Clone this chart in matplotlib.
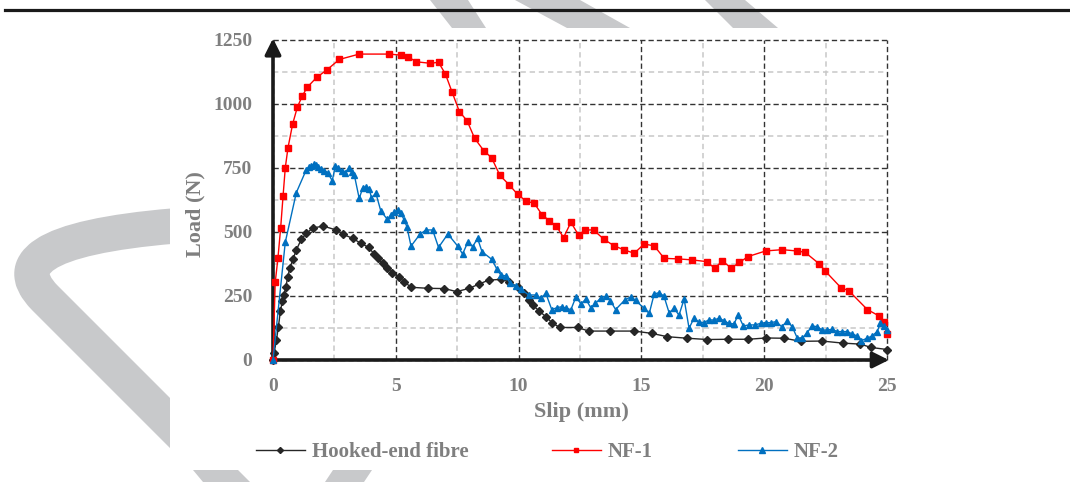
import numpy as np
import matplotlib
matplotlib.use("Agg")
import matplotlib.pyplot as plt
from matplotlib.lines import Line2D
from matplotlib.patches import Polygon, Rectangle, PathPatch
from matplotlib.path import Path

# pull-out curves: slip (mm) vs load (N)
hooked_x = [0, 0.04, 0.14, 0.22, 0.3, 0.38, 0.45, 0.52, 0.6, 0.68, 0.81, 0.95, 1.15,
            1.36, 1.63, 2.05, 2.57, 2.84, 3.24, 3.58, 3.89, 4.12, 4.26, 4.46, 4.66,
            4.86, 5.14, 5.34, 5.62, 6.33, 6.98, 7.48, 7.99, 8.4, 8.78, 9.28, 9.62,
            9.96, 10.23, 10.41, 10.57, 10.82, 11.11, 11.38, 11.68, 12.4, 12.86, 13.73,
            14.71, 15.42, 16.06, 16.87, 17.68, 18.52, 19.36, 20.06, 20.82, 21.48,
            22.36, 23.2, 23.92, 24.35, 25.0]
hooked_y = [0, 26, 78, 130, 190, 230, 254, 286, 323, 358, 393, 430, 471,
            495, 516, 523, 508, 492, 475, 456, 440, 414, 397, 378, 358,
            341, 323, 306, 284, 280, 279, 267, 280, 297, 312, 315, 306,
            284, 260, 234, 215, 193, 169, 144, 127, 127, 113, 113,
            113, 104, 91, 85, 80, 81, 81, 86, 85, 73,
            74, 66, 62, 49, 41]

nf1_x = [0, 0.09, 0.2, 0.31, 0.41, 0.5, 0.61, 0.8, 0.99, 1.19, 1.39, 1.78, 2.19, 2.7,
         3.51, 4.73, 5.2, 5.5, 5.82, 6.41, 6.74, 7.02, 7.29, 7.59, 7.9, 8.21, 8.58,
         8.9, 9.24, 9.62, 9.96, 10.3, 10.64, 10.95, 11.25, 11.54, 11.83, 12.13,
         12.44, 12.71, 13.05, 13.48, 13.89, 14.3, 14.71, 15.11, 15.52, 15.93, 16.49,
         17.07, 17.68, 17.98, 18.29, 18.66, 18.99, 19.34, 20.06, 20.73, 21.32,
         21.66, 22.25, 22.47, 23.13, 23.44, 24.2, 24.66, 24.86, 25.0]
nf1_y = [0, 303, 397, 514, 641, 751, 829, 922, 987, 1031, 1065, 1104, 1133, 1174,
         1195, 1195, 1191, 1185, 1165, 1159, 1163, 1117, 1047, 970, 935, 866, 818,
         790, 721, 684, 647, 621, 612, 568, 544, 523, 478, 538,
         488, 508, 508, 471, 446, 430, 417, 453, 446, 397, 395,
         391, 384, 358, 387, 359, 381, 404, 426, 431, 426,
         421, 375, 349, 282, 271, 197, 173, 147, 100]

nf2_x = [0, 0.5, 0.95, 1.35, 1.45, 1.55, 1.66, 1.76, 1.85, 1.96, 2.09, 2.23, 2.41,
         2.54, 2.66, 2.8, 2.93, 3.11, 3.2, 3.31, 3.51, 3.65, 3.78, 3.92, 4.01, 4.19,
         4.39, 4.66, 4.8, 4.93, 5.07, 5.2, 5.34, 5.45, 5.62, 5.99, 6.23, 6.5, 6.74,
         7.12, 7.52, 7.72, 7.93, 8.13, 8.33, 8.51, 8.91, 9.12, 9.28, 9.49, 9.65,
         9.9, 10.1, 10.41, 10.71, 10.91, 11.11, 11.35, 11.58, 11.76, 11.93, 12.13,
         12.33, 12.54, 12.74, 12.94, 13.13, 13.35, 13.55, 13.74, 13.95, 14.32,
         14.57, 14.76, 15.11, 15.32, 15.52, 15.72, 15.92, 16.13, 16.33, 16.53,
         16.74, 16.94, 17.14, 17.34, 17.54, 17.75, 17.95, 18.15, 18.36, 18.56,
         18.77, 18.94, 19.15, 19.38, 19.62, 19.85, 20.06, 20.26, 20.49, 20.71,
         20.94, 21.14, 21.34, 21.55, 21.75, 21.95, 22.16, 22.36, 22.56, 22.77,
         22.97, 23.17, 23.38, 23.58, 23.78, 23.96, 24.19, 24.39, 24.6, 24.73,
         24.87, 25.0]
nf2_y = [0, 460, 654, 742, 753, 758, 764, 762, 755, 745, 740, 732, 700,
         758, 749, 740, 732, 751, 736, 723, 631, 671, 677, 667, 634, 651,
         582, 549, 566, 579, 586, 575, 547, 521, 445, 492, 508, 508, 440,
         492, 445, 414, 460, 443, 475, 423, 393, 354, 332, 328, 300,
         289, 276, 254, 254, 241, 260, 197, 205, 208, 202, 197,
         245, 220, 237, 204, 221, 243, 249, 231, 197, 234,
         247, 233, 202, 182, 258, 263, 249, 184, 202, 175,
         238, 124, 163, 148, 146, 157, 156, 163, 154, 143,
         141, 176, 133, 137, 137, 143, 146, 146, 150, 130,
         152, 130, 87, 85, 107, 133, 130, 117, 117, 120,
         111, 111, 111, 102, 94, 76, 85, 94, 111, 143,
         133, 117]

x_ticks = [0, 5, 10, 15, 20, 25]
y_ticks = [0, 250, 500, 750, 1000, 1250]

series_names = ["Hooked-end fibre", "NF-1", "NF-2"]

TEXT = "#7f7f7f"
WM = "#c8c9cb"
W, H = 1070, 482

plt.rcParams["font.family"] = ["Liberation Serif", "DejaVu Serif"]
plt.rcParams["font.weight"] = "bold"

fig = plt.figure(figsize=(W / 100, H / 100), dpi=100)


def fpt(x, y):
    # pixel position (from top-left) -> figure fraction
    return (x / W, 1 - y / H)


# grey stamp shapes behind the chart
hook = Path([fpt(200, 224), fpt(-15, 238), fpt(45, 298), fpt(200, 453)],
            [Path.MOVETO, Path.CURVE3, Path.CURVE3, Path.LINETO])
fig.add_artist(PathPatch(hook, fill=False, lw=25.5, edgecolor=WM,
                         capstyle="butt", joinstyle="round",
                         transform=fig.transFigure, zorder=-3))
for quad in ([(430, 0), (468, 0), (486, 28), (452, 28)],
             [(515, 0), (580, 0), (630, 28), (567, 28)],
             [(705, 0), (745, 0), (778, 28), (733, 28)],
             [(193, 470), (238, 470), (250, 482), (203, 482)],
             [(333, 470), (372, 470), (364, 482), (325, 482)]):
    fig.add_artist(Polygon([fpt(*q) for q in quad], closed=True, color=WM, lw=0,
                           transform=fig.transFigure, zorder=-3))
# white panel of the chart itself
x0, y0 = fpt(170, 470)
x1, y1 = fpt(1070, 28)
fig.add_artist(Rectangle((x0, y0), x1 - x0, y1 - y0, color="white", lw=0,
                         transform=fig.transFigure, zorder=-2))
# rule across the top of the page
fig.add_artist(Line2D([5 / W, 1], [1 - 10 / H] * 2, lw=2.3, color="#1a1a1a",
                      transform=fig.transFigure, zorder=-1))

ax = fig.add_axes([273 / W, 122 / H, 614 / W, 320 / H])
ax.set_xlim(0, 25)
ax.set_ylim(0, 1250)

ax.set_xticks(x_ticks)
ax.set_yticks(y_ticks)
ax.set_xticks([2.5, 7.5, 12.5, 17.5, 22.5], minor=True)
ax.set_yticks([125, 375, 625, 875, 1125], minor=True)
ax.tick_params(which="both", length=0)
ax.tick_params(axis="x", pad=13, labelsize=14, labelcolor=TEXT)
ax.tick_params(axis="y", pad=15, labelsize=14, labelcolor=TEXT)

ax.grid(which="major", color="#333333", lw=1.0, ls=(0, (3.8, 2.2)))
ax.grid(which="minor", color="#c8c8c8", lw=1.1, ls=(0, (3.5, 2.5)))
for gl in ax.get_xgridlines() + ax.get_ygridlines():
    gl.set_clip_on(False)
for s in ax.spines.values():
    s.set_visible(False)

# axes drawn as arrows
arrow = dict(arrowstyle="-|>", lw=2.6, color="#1a1a1a", mutation_scale=24,
             shrinkA=0, shrinkB=0)
ax.annotate("", xy=(0, 1.005), xytext=(0, -0.005), xycoords="axes fraction",
            arrowprops=arrow, zorder=4)
ax.annotate("", xy=(1.003, 0), xytext=(-0.003, 0), xycoords="axes fraction",
            arrowprops=arrow, zorder=4)

h1, = ax.plot(hooked_x, hooked_y, color="#262626", lw=1.0, marker="D",
              markersize=3.6, clip_on=False, zorder=5)
h2, = ax.plot(nf1_x, nf1_y, color="#ff0000", lw=1.0, marker="s",
              markersize=4.2, clip_on=False, zorder=5)
h3, = ax.plot(nf2_x, nf2_y, color="#0070c0", lw=1.0, marker="^",
              markersize=4.6, clip_on=False, zorder=6)

ax.text(0.502, -0.163, "Slip (mm)", transform=ax.transAxes, ha="center",
        va="center", fontsize=16, color=TEXT)
ax.text(-0.126, 0.455, "Load (N)", transform=ax.transAxes, ha="center",
        va="center", rotation=90, fontsize=16, color=TEXT)

# legend entries spread out below the plot
for h, name, xl in zip([h1, h2, h3], series_names, [256, 552, 738]):
    proxy = Line2D([], [], color=h.get_color(), lw=1.0, marker=h.get_marker(),
                   markersize=h.get_markersize() * 0.85)
    fig.legend([proxy], [name], loc="center left", bbox_to_anchor=fpt(xl, 452),
               frameon=False, fontsize=15, labelcolor=TEXT, handlelength=2.35,
               handletextpad=0.33, borderpad=0, borderaxespad=0, numpoints=1)

fig.savefig("out.png", dpi=100)
